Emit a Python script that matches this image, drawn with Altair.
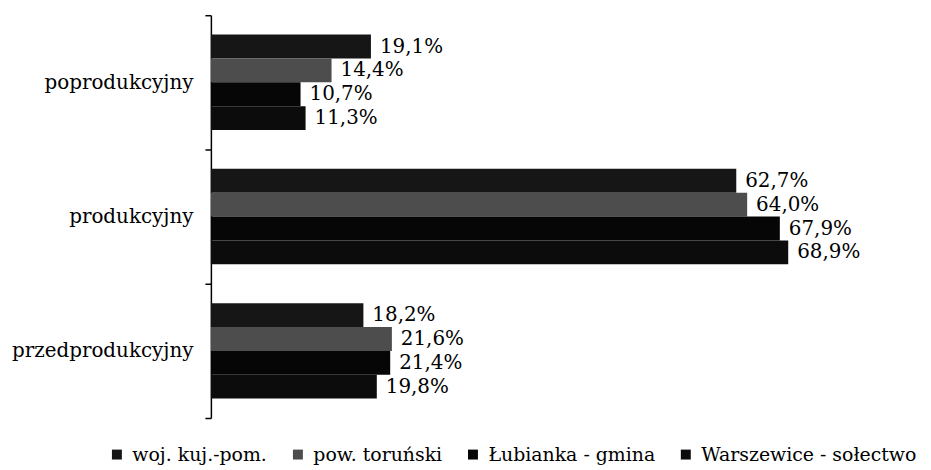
import altair as alt
import pandas as pd

categories = ["poprodukcyjny", "produkcyjny", "przedprodukcyjny"]
series = ["woj. kuj.-pom.", "pow. toruński", "Łubianka - gmina", "Warszewice - sołectwo"]
colors = ["#161616", "#4d4d4d", "#060606", "#0c0c0c"]

vals_poprod = [19.1, 14.4, 10.7, 11.3]
vals_prod = [62.7, 64.0, 67.9, 68.9]
vals_przed = [18.2, 21.6, 21.4, 19.8]

rows = []
for cat, vals in zip(categories, [vals_poprod, vals_prod, vals_przed]):
    for s, v in zip(series, vals):
        rows.append({"kat": cat, "seria": s, "v": v,
                     "lab": f"{v:.1f}".replace(".", ",") + "%"})
df = pd.DataFrame(rows)

FONT = "DejaVu Serif"
FS = 20
LFS = 19

base = alt.Chart(df).encode(
    y=alt.Y("kat:N", sort=categories,
            scale=alt.Scale(paddingInner=0, paddingOuter=0),
            axis=alt.Axis(title=None, domainColor="black", tickColor="black",
                          tickSize=6, tickBand="extent", labelPadding=12,
                          labelFont=FONT, labelFontSize=FS, labelColor="black",
                          domainWidth=1.5, tickWidth=1.5, labelLimit=0)),
    yOffset=alt.YOffset("seria:N", sort=series,
                        scale=alt.Scale(paddingInner=0, paddingOuter=0.8125)),
)

bars = base.mark_bar().encode(
    x=alt.X("v:Q", scale=alt.Scale(domain=[0, 80]), axis=None),
    color=alt.Color("seria:N", sort=series,
                    scale=alt.Scale(domain=series, range=colors),
                    legend=alt.Legend(title=None, orient="none", legendX=-104, legendY=432,
                                      direction="horizontal", symbolType="square",
                                      symbolSize=100, labelFont=FONT, labelFontSize=LFS,
                                      labelColor="black", columnPadding=21,
                                      labelOffset=6, symbolStrokeWidth=0, labelLimit=0)),
)

labels = base.mark_text(align="left", baseline="middle", dx=9, font=FONT,
                        fontSize=FS, color="black").encode(
    x=alt.X("v:Q"),
    text="lab:N",
)

chart = (bars + labels).properties(
    width=674, height=405,
    autosize=alt.AutoSizeParams(type="none"),
    padding={"left": 204, "top": 6, "right": 42, "bottom": 47},
    background="white",
).configure_view(strokeWidth=0, stroke=None)

chart.save("out.html", embed_options={"renderer": "svg", "actions": False})
